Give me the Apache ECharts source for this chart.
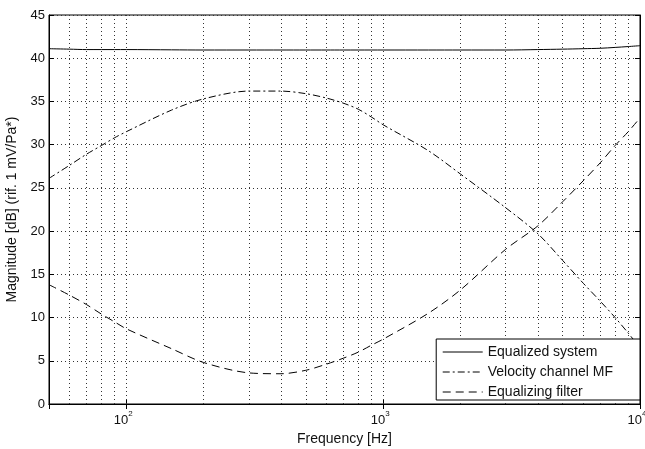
<html>
<head>
    <meta http-equiv="Content-Type" content="text/html; charset=utf-8"/>
    <title>Equalization</title>
    <style type="text/css">
        body, #chart {
            border: 0px;
            margin: 0px;
            padding: 0px;
            width: 645px;
            height: 449px;
            background: #ffffff;
        }
    </style>
    <script type="text/javascript" src="https://cdn.jsdelivr.net/npm/echarts@6.0.0/dist/echarts.min.js"></script>
</head>
<body>
<div id="chart"></div>
<script type="text/javascript">
    // frequenze [Hz]
    var freqs = [50, 60, 70, 80, 90, 100, 150, 200, 300, 400, 500, 600, 700, 800, 900,
        1000, 1500, 2000, 3000, 4000, 5000, 6000, 7000, 8000, 9000, 10000];
    var equalizedSystem = [41.1, 41.05, 41.0, 41.0, 41.0, 41.0, 40.97, 40.95, 40.95, 40.95, 40.95, 40.95, 40.95, 40.95, 40.95,
        40.95, 40.95, 40.95, 40.95, 41.0, 41.05, 41.1, 41.15, 41.25, 41.35, 41.45];
    var velocityMF = [26.1, 27.6, 28.9, 29.9, 30.8, 31.5, 34.0, 35.3, 36.2, 36.2, 35.9, 35.4, 34.8, 34.1, 33.2,
        32.3, 29.3, 26.6, 22.7, 19.7, 16.6, 14.0, 11.9, 10.0, 8.2, 6.5];
    var equalizingFilter = [13.8, 12.6, 11.5, 10.4, 9.5, 8.7, 6.4, 4.8, 3.6, 3.5, 3.9, 4.6, 5.3, 6.0, 6.8,
        7.5, 10.5, 13.2, 17.9, 20.6, 23.4, 25.8, 27.9, 29.9, 31.5, 33.1];
    // linee verticali della griglia (decadi + intermedie)
    var gridFreqs = [60, 70, 80, 90, 100, 200, 300, 400, 500, 600, 700, 800, 900,
        1000, 2000, 3000, 4000, 5000, 6000, 7000, 8000, 9000];
    var seriesNames = ['Equalized system', 'Velocity channel MF', 'Equalizing filter'];

    function pairs(ys) {
        var out = [];
        for (var i = 0; i < freqs.length; i++) {
            out.push([freqs[i], ys[i]]);
        }
        return out;
    }

    var font = 'Liberation Sans, Arial, sans-serif';
    var dotted = {color: '#333', width: 1, type: [1, 3]};

    var vLines = [];
    for (var i = 0; i < gridFreqs.length; i++) {
        vLines.push({xAxis: gridFreqs[i]});
    }

    var myChart = echarts.init(document.getElementById('chart'), null, {renderer: 'canvas'});
    var option = {
        animation: false,
        backgroundColor: '#ffffff',
        textStyle: {fontFamily: font},
        grid: {
            left: 49,
            right: 5,
            top: 15,
            bottom: 45,
            outerBoundsMode: 'none',
            containLabel: false,
            show: true,
            borderColor: '#000',
            borderWidth: 1,
            backgroundColor: '#fff'
        },
        legend: {
            orient: 'vertical',
            right: 5,
            bottom: 49,
            z: 20,
            data: seriesNames,
            backgroundColor: '#fff',
            borderColor: '#000',
            borderWidth: 1,
            borderRadius: 0,
            padding: [6, 27, 1, 6],
            itemWidth: 40,
            itemHeight: 14,
            itemGap: 6,
            itemStyle: {opacity: 0},
            lineStyle: {width: 1},
            textStyle: {fontFamily: font, fontSize: 14, color: '#111'}
        },
        xAxis: [{
            type: 'log',
            logBase: 10,
            min: 50,
            max: 10000,
            name: 'Frequency [Hz]',
            nameLocation: 'middle',
            nameGap: 25,
            nameTextStyle: {fontFamily: font, fontSize: 14, color: '#111'},
            axisLine: {lineStyle: {color: '#000', width: 1}},
            axisTick: {inside: true, length: 5, lineStyle: {color: '#000'}},
            splitLine: {show: false},
            axisLabel: {
                margin: 6,
                color: '#111',
                padding: [0, 6, 0, 0],
                formatter: function (v) {
                    var p = Math.log(v) / Math.LN10;
                    if (Math.abs(p - Math.round(p)) > 1e-6) {
                        return '';
                    }
                    return '{b|10}{s|' + Math.round(p) + '}';
                },
                rich: {
                    b: {fontFamily: font, fontSize: 13, color: '#111', padding: [4, 0, 0, 0]},
                    s: {fontFamily: font, fontSize: 8, color: '#111', verticalAlign: 'top', padding: [0, 0, 6, 0]}
                }
            }
        }, {
            type: 'log',
            logBase: 10,
            min: 50,
            max: 10000,
            position: 'top',
            axisLine: {lineStyle: {color: '#000', width: 1}},
            axisTick: {inside: true, length: 5, lineStyle: {color: '#000'}},
            axisLabel: {show: false},
            splitLine: {show: false}
        }],
        yAxis: [{
            type: 'value',
            min: 0,
            max: 45,
            interval: 5,
            name: 'Magnitude [dB] (rif. 1 mV/Pa*)',
            nameLocation: 'middle',
            nameGap: 30,
            nameTextStyle: {fontFamily: font, fontSize: 14, color: '#111'},
            axisLine: {show: true, lineStyle: {color: '#000', width: 1}},
            axisTick: {inside: true, length: 5, lineStyle: {color: '#000'}},
            axisLabel: {fontFamily: font, fontSize: 13, color: '#111', margin: 4},
            splitLine: {show: true, lineStyle: dotted}
        }, {
            type: 'value',
            min: 0,
            max: 45,
            interval: 5,
            position: 'right',
            axisLine: {show: true, lineStyle: {color: '#000', width: 1}},
            axisTick: {inside: true, length: 5, lineStyle: {color: '#000'}},
            axisLabel: {show: false},
            splitLine: {show: false}
        }],
        series: [
            {
                name: 'grid',
                type: 'line',
                data: [],
                silent: true,
                markLine: {
                    silent: true,
                    symbol: ['none', 'none'],
                    label: {show: false},
                    lineStyle: dotted,
                    data: vLines
                }
            },
            {
                name: seriesNames[0],
                type: 'line',
                data: pairs(equalizedSystem),
                smooth: 0.3,
                symbol: 'none',
                lineStyle: {color: '#000', width: 1, type: 'solid'},
                itemStyle: {color: '#000'}
            },
            {
                name: seriesNames[1],
                type: 'line',
                data: pairs(velocityMF),
                smooth: 0.3,
                symbol: 'none',
                lineStyle: {color: '#000', width: 1, type: [7, 3, 2, 3]},
                itemStyle: {color: '#000'}
            },
            {
                name: seriesNames[2],
                type: 'line',
                data: pairs(equalizingFilter),
                smooth: 0.3,
                symbol: 'none',
                lineStyle: {color: '#000', width: 1, type: [8, 5]},
                itemStyle: {color: '#000'}
            }
        ]
    };
    myChart.setOption(option);
</script>
</body>
</html>
